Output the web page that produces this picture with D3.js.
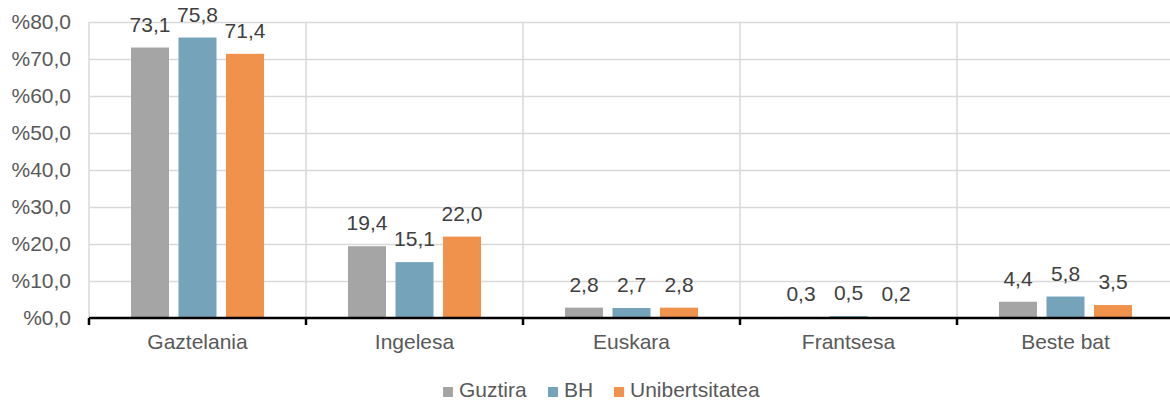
<!DOCTYPE html>
<html>
<head>
<meta charset="utf-8">
<script src="https://d3js.org/d3.v7.min.js"></script>
<style>
body { margin: 0; background: #fff; }
text { font-family: "Liberation Sans", Arial, sans-serif; fill: #595959; }
text.value { fill: #404040; }
</style>
</head>
<body>
<div id="chart"></div>
<script>
var categories = ["Gaztelania", "Ingelesa", "Euskara", "Frantsesa", "Beste bat"];
var seriesNames = ["Guztira", "BH", "Unibertsitatea"];
var guztira = [73.1, 19.4, 2.8, 0.3, 4.4];
var bh = [75.8, 15.1, 2.7, 0.5, 5.8];
var unibertsitatea = [71.4, 22.0, 2.8, 0.2, 3.5];
var yTicks = [0, 10, 20, 30, 40, 50, 60, 70, 80];

var colors = ["#a5a5a5", "#74a3ba", "#f0914c"];
var series = [guztira, bh, unibertsitatea];

var width = 1170,
	height = 401,
	fontSize = '21px',
	margin = { left: 89, right: -4, top: 22, bottom: 83 };

var svg = d3.select('#chart').append('svg')
	.attr('width', width)
	.attr('height', height);

var x = d3.scaleBand()
	.domain(categories)
	.range([margin.left, width - margin.right]);

var xInner = d3.scaleBand()
	.domain(seriesNames)
	.range([0, 133])
	.paddingInner(0.2);

var y = d3.scaleLinear()
	.domain([0, 80])
	.range([height - margin.bottom, margin.top]);

var fmt = function(v) { return v.toFixed(1).replace('.', ','); };

// grid
svg.append('g').selectAll('line.h').data(yTicks.slice(1)).enter()
	.append('line')
	.attr('x1', margin.left).attr('x2', width)
	.attr('y1', function(d) { return y(d) + 0.5; })
	.attr('y2', function(d) { return y(d) + 0.5; })
	.attr('stroke', '#d9d9d9').attr('stroke-width', 1.5);

var bounds = categories.map(function(c) { return x(c); }).concat([x.range()[1]]);
svg.append('g').selectAll('line.v').data(bounds).enter()
	.append('line')
	.attr('x1', function(d) { return d; }).attr('x2', function(d) { return d; })
	.attr('y1', y(80)).attr('y2', y(0))
	.attr('stroke', '#d9d9d9').attr('stroke-width', 1.5);

// y labels
svg.append('g').selectAll('text').data(yTicks).enter()
	.append('text')
	.attr('x', 71)
	.attr('y', function(d) { return y(d); })
	.attr('dy', '0.35em')
	.attr('text-anchor', 'end')
	.style('font-size', fontSize)
	.text(function(d) { return '%' + fmt(d); });

// bars
var groups = svg.append('g').selectAll('g').data(categories).enter()
	.append('g')
	.attr('transform', function(d) { return 'translate(' + (x(d) + (x.bandwidth() - 133) / 2) + ',0)'; });

groups.selectAll('rect').data(function(d, i) {
	return series.map(function(s, j) { return { name: seriesNames[j], value: s[i], color: colors[j] }; });
}).enter().append('rect')
	.attr('x', function(d) { return xInner(d.name); })
	.attr('width', xInner.bandwidth())
	.attr('y', function(d) { return y(d.value); })
	.attr('height', function(d) { return y(0) - y(d.value); })
	.attr('fill', function(d) { return d.color; });

groups.selectAll('text').data(function(d, i) {
	return series.map(function(s, j) { return { name: seriesNames[j], value: s[i] }; });
}).enter().append('text')
	.attr('class', 'value')
	.attr('x', function(d) { return xInner(d.name) + xInner.bandwidth() / 2; })
	.attr('y', function(d) { return y(d.value) - 16; })
	.attr('text-anchor', 'middle')
	.style('font-size', fontSize)
	.text(function(d) { return fmt(d.value); });

// x axis
svg.append('line')
	.attr('x1', margin.left).attr('x2', width)
	.attr('y1', y(0)).attr('y2', y(0))
	.attr('stroke', '#000').attr('stroke-width', 2.5);

svg.append('g').selectAll('line').data(bounds).enter()
	.append('line')
	.attr('x1', function(d) { return d; }).attr('x2', function(d) { return d; })
	.attr('y1', y(0)).attr('y2', y(0) + 7)
	.attr('stroke', '#000').attr('stroke-width', 2.5);

svg.append('g').selectAll('text').data(categories).enter()
	.append('text')
	.attr('x', function(d) { return x(d) + x.bandwidth() / 2; })
	.attr('y', 349)
	.attr('text-anchor', 'middle')
	.style('font-size', fontSize)
	.text(function(d) { return d; });

// legend
var legendX = [443, 548, 614];
var legend = svg.append('g').selectAll('g').data(seriesNames).enter()
	.append('g')
	.attr('transform', function(d, i) { return 'translate(' + legendX[i] + ',387)'; });
legend.append('rect')
	.attr('width', 10).attr('height', 10)
	.attr('fill', function(d, i) { return colors[i]; });
legend.append('text')
	.attr('x', 16).attr('y', 10)
	.style('font-size', fontSize)
	.text(function(d) { return d; });
</script>
</body>
</html>
